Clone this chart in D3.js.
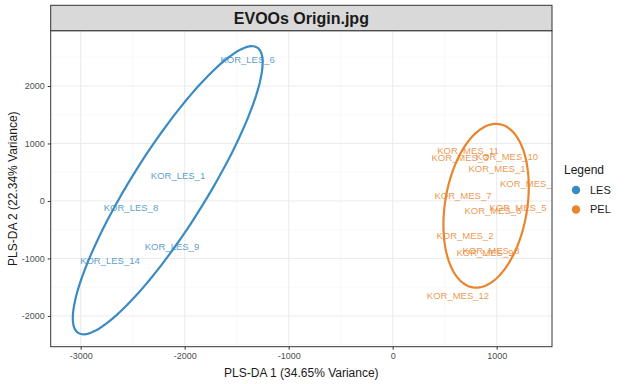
<!DOCTYPE html>
<html>
<head>
	<title>EVOOs Origin</title>
	<meta charset="utf-8">
	<script src="https://cdnjs.cloudflare.com/ajax/libs/d3/7.8.5/d3.min.js"></script>
	<style>
		body { margin: 0; background: white; }
		#chart text { font-family: "Liberation Sans", Arial, sans-serif; }
	</style>
</head>
<body>
	<div id="chart"></div>
	<script>
		// sample scores (PLS-DA component 1 and 2)
		var lesNames = ["KOR_LES_6", "KOR_LES_1", "KOR_LES_8", "KOR_LES_9", "KOR_LES_14"];
		var lesX = [-1394, -2064, -2516, -2122, -2718];
		var lesY = [2460, 435, -122, -800, -1043];

		var pelNames = ["KOR_MES_11", "KOR_MES_3", "KOR_MES_10", "KOR_MES_1", "KOR_MES_4", "KOR_MES_7",
			"KOR_MES_5", "KOR_MES_6", "KOR_MES_2", "KOR_MES_8", "KOR_MES_9", "KOR_MES_12"];
		var pelX = [724, 647, 1099, 1003, 1306, 676, 1205, 964, 695, 945, 888, 628];
		var pelY = [870, 748, 765, 557, 296, 87, -122, -174, -609, -870, -904, -1652];

		var groups = ["LES", "PEL"];
		var colors = ["#3A8AC4", "#E8852F"];
		var xTicks = [-3000, -2000, -1000, 0, 1000];
		var yTicks = [-2000, -1000, 0, 1000, 2000];
		var ellipseLevel = 0.8;

		var W = 630, H = 384;
		var pLeft = 50.7, pRight = 552, pTop = 30.7, pBottom = 346.7;

		var svg = d3.select('#chart').append('svg')
			.attr('width', W).attr('height', H);

		var x = d3.scaleLinear().domain([-3288, 1532]).range([pLeft, pRight]);
		var y = d3.scaleLinear().domain([-2536, 2962]).range([pBottom, pTop]);

		// grid
		var minorX = [-2500, -1500, -500, 500, 1500];
		var minorY = [-2500, -1500, -500, 500, 1500, 2500];
		var grid = svg.append('g');
		grid.selectAll('.mx').data(minorX).enter().append('line')
			.attr('x1', d => x(d)).attr('x2', d => x(d)).attr('y1', pTop).attr('y2', pBottom)
			.attr('stroke', '#F3F3F3').attr('stroke-width', 0.6);
		grid.selectAll('.my').data(minorY).enter().append('line')
			.attr('y1', d => y(d)).attr('y2', d => y(d)).attr('x1', pLeft).attr('x2', pRight)
			.attr('stroke', '#F3F3F3').attr('stroke-width', 0.6);
		grid.selectAll('.gx').data(xTicks).enter().append('line')
			.attr('x1', d => x(d)).attr('x2', d => x(d)).attr('y1', pTop).attr('y2', pBottom)
			.attr('stroke', '#EBEBEB').attr('stroke-width', 1);
		grid.selectAll('.gy').data(yTicks).enter().append('line')
			.attr('y1', d => y(d)).attr('y2', d => y(d)).attr('x1', pLeft).attr('x2', pRight)
			.attr('stroke', '#EBEBEB').attr('stroke-width', 1);

		svg.append('clipPath').attr('id', 'clip')
			.append('rect').attr('x', pLeft).attr('y', pTop).attr('width', pRight - pLeft).attr('height', pBottom - pTop);
		var plot = svg.append('g').attr('clip-path', 'url(#clip)');

		// ellipse from mean and covariance of each group
		function ellipse(xs, ys) {
			var n = xs.length;
			var mx = d3.mean(xs), my = d3.mean(ys);
			var sxx = 0, syy = 0, sxy = 0;
			for (var i = 0; i < n; i++) {
				sxx += (xs[i] - mx) * (xs[i] - mx);
				syy += (ys[i] - my) * (ys[i] - my);
				sxy += (xs[i] - mx) * (ys[i] - my);
			}
			sxx /= (n - 1); syy /= (n - 1); sxy /= (n - 1);
			var a = Math.sqrt(sxx), b = sxy / a, c = Math.sqrt(syy - b * b);
			var r = Math.sqrt(-2 * Math.log(1 - ellipseLevel));
			return d3.range(0, 101).map(function(k) {
				var t = k / 100 * 2 * Math.PI;
				var u = Math.cos(t), v = Math.sin(t);
				return [mx + r * u * a, my + r * (u * b + v * c)];
			});
		}

		var line = d3.line().x(d => x(d[0])).y(d => y(d[1]));
		var sets = [[lesNames, lesX, lesY], [pelNames, pelX, pelY]];

		sets.forEach(function(s, gi) {
			plot.append('path')
				.datum(ellipse(s[1], s[2]))
				.attr('d', line)
				.attr('fill', 'none')
				.attr('stroke', colors[gi])
				.attr('stroke-width', 2.2);
		});

		sets.forEach(function(s, gi) {
			plot.selectAll('.lab' + gi)
				.data(s[0])
				.enter().append('text')
				.attr('x', (d, i) => x(s[1][i]))
				.attr('y', (d, i) => y(s[2][i]))
				.attr('dy', '0.35em')
				.attr('text-anchor', 'middle')
				.attr('font-size', 9.5)
				.attr('fill', colors[gi])
				.attr('fill-opacity', 0.85)
				.text(d => d);
		});

		// panel border
		svg.append('rect').attr('x', pLeft).attr('y', pTop)
			.attr('width', pRight - pLeft).attr('height', pBottom - pTop)
			.attr('fill', 'none').attr('stroke', '#333333').attr('stroke-width', 1);

		// strip
		svg.append('rect').attr('x', pLeft).attr('y', 5.3)
			.attr('width', pRight - pLeft).attr('height', pTop - 5.3)
			.attr('fill', '#D9D9D9').attr('stroke', '#333333').attr('stroke-width', 1);
		svg.append('text').attr('x', (pLeft + pRight) / 2).attr('y', 18.5)
			.attr('dy', '0.35em').attr('text-anchor', 'middle')
			.attr('font-size', 16).attr('font-weight', 'bold').attr('fill', '#1A1A1A')
			.text('EVOOs Origin.jpg');

		// axes
		var fmt = d => String(d);
		var xAxis = d3.axisBottom(x).tickValues(xTicks).tickFormat(fmt).tickSize(3).tickPadding(3);
		var gx = svg.append('g').attr('transform', 'translate(0,' + pBottom + ')').call(xAxis);
		var yAxis = d3.axisLeft(y).tickValues(yTicks).tickFormat(fmt).tickSize(3).tickPadding(3);
		var gy = svg.append('g').attr('transform', 'translate(' + pLeft + ',0)').call(yAxis);
		[gx, gy].forEach(function(g) {
			g.select('.domain').remove();
			g.selectAll('.tick line').attr('stroke', '#333333');
			g.selectAll('.tick text').attr('fill', '#4D4D4D').attr('font-size', 9);
		});

		svg.append('text').attr('x', (pLeft + pRight) / 2).attr('y', 377)
			.attr('text-anchor', 'middle').attr('font-size', 12).attr('fill', '#1A1A1A')
			.text('PLS-DA 1 (34.65% Variance)');
		svg.append('text')
			.attr('transform', 'translate(17,' + ((pTop + pBottom) / 2) + ') rotate(-90)')
			.attr('text-anchor', 'middle').attr('font-size', 12).attr('fill', '#1A1A1A')
			.text('PLS-DA 2 (22.34% Variance)');

		// legend
		var lg = svg.append('g');
		lg.append('text').attr('x', 564).attr('y', 174).attr('font-size', 12).attr('fill', '#1A1A1A').text('Legend');
		groups.forEach(function(g, i) {
			lg.append('circle').attr('cx', 576).attr('cy', 190 + i * 19.5).attr('r', 4.2).attr('fill', colors[i]);
			lg.append('text').attr('x', 590).attr('y', 190 + i * 19.5).attr('dy', '0.35em')
				.attr('font-size', 11).attr('fill', '#1A1A1A').text(g);
		});
	</script>
</body>
</html>
